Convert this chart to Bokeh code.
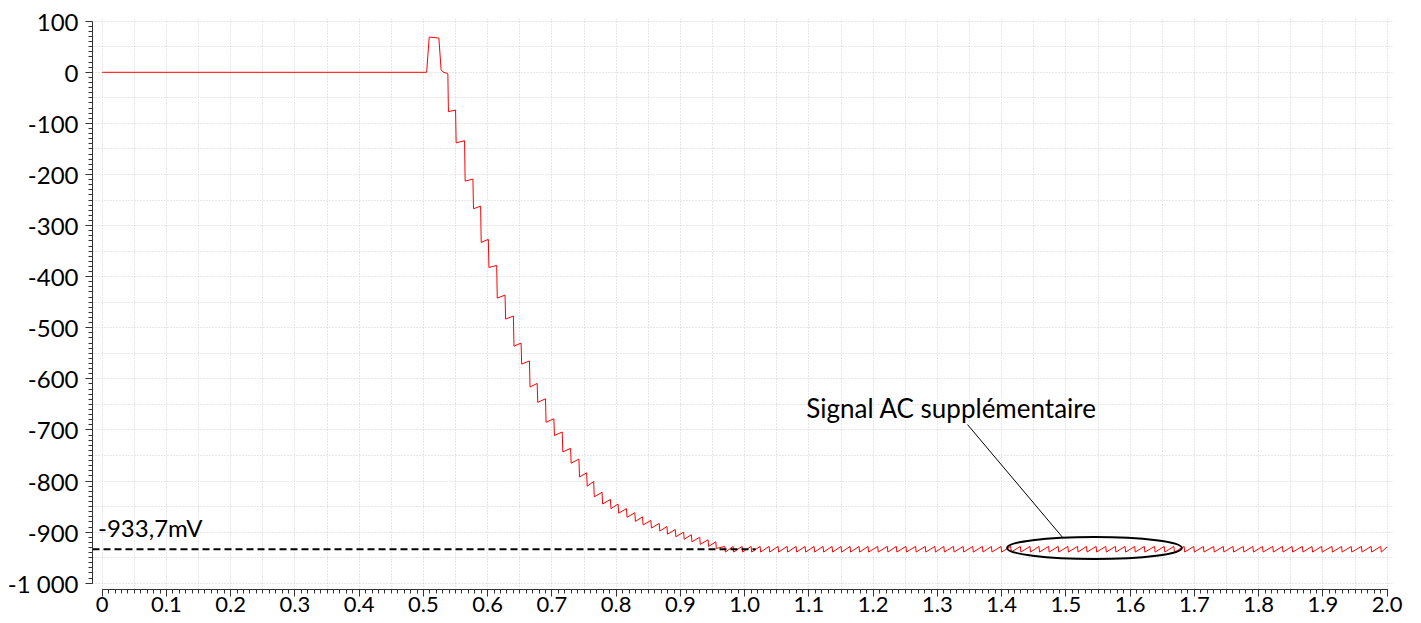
from bokeh.plotting import figure
from bokeh.models import Range1d, SingleIntervalTicker, FixedTicker, Label
from bokeh.embed import file_html
from bokeh.resources import INLINE

# ---------------- data ----------------
# flat start, short positive pulse, return to ~0
pre_t = [0.0, 0.505, 0.509, 0.524, 0.5275, 0.531, 0.537]
pre_v = [0.0, 0.0, 69.0, 67.0, 5.0, 0.0, -2.0]

# staircase decay: time of each sharp drop, level just before it, level just after it
decay_t = [0.538, 0.550, 0.564, 0.577, 0.589, 0.601, 0.614, 0.627, 0.640, 0.652,
           0.665, 0.677, 0.690, 0.703, 0.716, 0.729, 0.742, 0.754, 0.765, 0.778,
           0.791, 0.803, 0.816, 0.829, 0.841, 0.854, 0.867, 0.879, 0.892, 0.905,
           0.917, 0.930, 0.943, 0.955]
decay_hi = [-3, -74, -134, -209, -262, -327, -378, -436, -477, -530,
            -565, -609, -639, -678, -704, -736, -757, -784, -801, -822,
            -836, -845, -854, -862, -870, -877, -883, -889, -895, -900,
            -905, -910, -915, -919]
decay_lo = [-77, -138, -213, -267, -333, -382, -442, -483, -536, -571,
            -616, -646, -685, -711, -743, -765, -792, -810, -831, -845,
            -854, -863, -871, -879, -886, -892, -898, -904, -909, -914,
            -919, -924, -928, -932]

# steady-state ripple: drop times, upper and lower ripple levels
tail_t = [0.969, 0.982, 0.996, 1.010, 1.024, 1.038, 1.052, 1.066, 1.080, 1.094,
          1.108, 1.122, 1.136, 1.150, 1.164, 1.178, 1.192, 1.207, 1.222, 1.236,
          1.251, 1.266, 1.281, 1.296, 1.310, 1.325, 1.340, 1.355, 1.370, 1.384,
          1.399, 1.414, 1.429, 1.444, 1.458, 1.473, 1.488, 1.503, 1.518, 1.532,
          1.547, 1.562, 1.577, 1.592, 1.607, 1.622, 1.638, 1.653, 1.668, 1.684,
          1.699, 1.714, 1.730, 1.745, 1.760, 1.776, 1.791, 1.806, 1.822, 1.837,
          1.852, 1.868, 1.883, 1.898, 1.914, 1.929, 1.944, 1.960, 1.975, 1.990]
tail_hi = -928.0
tail_lo = -939.0
end_t = 2.0
end_v = -929.0

ref_level = -933.7
ref_text = "-933,7mV"
note_text = "Signal AC supplémentaire"

x_ticks = [0, 0.1, 0.2, 0.3, 0.4, 0.5, 0.6, 0.7, 0.8, 0.9, 1.0,
           1.1, 1.2, 1.3, 1.4, 1.5, 1.6, 1.7, 1.8, 1.9, 2.0]
x_labels = ["0", "0.1", "0.2", "0.3", "0.4", "0.5", "0.6", "0.7", "0.8", "0.9", "1.0",
            "1.1", "1.2", "1.3", "1.4", "1.5", "1.6", "1.7", "1.8", "1.9", "2.0"]
y_ticks = [-1000, -900, -800, -700, -600, -500, -400, -300, -200, -100, 0, 100]
y_labels = ["-1 000", "-900", "-800", "-700", "-600", "-500", "-400", "-300",
            "-200", "-100", "0", "100"]

# ---------------- build the trace ----------------
xs = list(pre_t)
ys = list(pre_v)
DROP = 0.0009
for t, hi, lo in zip(decay_t, decay_hi, decay_lo):
    xs += [t, t + DROP]
    ys += [hi, lo]
for t in tail_t:
    xs += [t, t + DROP]
    ys += [tail_hi, tail_lo]
xs.append(end_t)
ys.append(end_v)

FONT = "Lato"
X0, X1 = -0.0151, 2.0083
Y0, Y1 = -1012.3, 105.3

p = figure(width=1421, height=623, output_backend="svg", toolbar_location=None,
           x_range=Range1d(X0, X1), y_range=Range1d(Y0, Y1),
           min_border_left=92, min_border_right=29, min_border_top=18,
           min_border_bottom=34)
p.outline_line_color = None
p.background_fill_color = "white"
p.border_fill_color = "white"

# grid
p.xgrid.ticker = SingleIntervalTicker(interval=0.05, num_minor_ticks=0)
p.ygrid.ticker = SingleIntervalTicker(interval=50, num_minor_ticks=0)
for g in (p.xgrid, p.ygrid):
    g.grid_line_color = "#cfcfcf"
    g.grid_line_dash = "1 2"
    g.grid_line_width = 1

# axes
xminor = [i / 100 for i in range(0, 201)]
yminor = list(range(-1000, 101, 10))
p.xaxis.ticker = FixedTicker(ticks=x_ticks, minor_ticks=xminor)
p.yaxis.ticker = FixedTicker(ticks=y_ticks, minor_ticks=yminor)
p.xaxis.major_label_overrides = dict(zip(x_ticks, x_labels))
p.yaxis.major_label_overrides = dict(zip(y_ticks, y_labels))
p.xaxis.bounds = (0, 2.0)
p.yaxis.bounds = (-1000, 100)
for ax in (p.xaxis, p.yaxis):
    ax.axis_line_color = "#333333"
    ax.axis_line_width = 1
    ax.major_tick_line_color = "#333333"
    ax.minor_tick_line_color = "#333333"
    ax.major_tick_in = 0
    ax.major_tick_out = 7
    ax.minor_tick_in = 0
    ax.minor_tick_out = 4
    ax.major_label_text_font = FONT
    ax.major_label_text_color = "black"
p.xaxis.major_label_text_font_size = "22px"
p.yaxis.major_label_text_font_size = "24px"
p.xaxis.major_label_standoff = 0
p.yaxis.major_label_standoff = 7

# signal
p.line(xs, ys, line_color="#ff0000", line_width=1)

# reference level
p.segment(x0=[X0], y0=[ref_level], x1=[1.017], y1=[ref_level],
          line_color="black", line_width=2, line_dash="7 4")
p.add_layout(Label(x=-0.0065, y=-891, text=ref_text, text_font=FONT,
                   text_font_size="24px", text_color="black",
                   text_baseline="alphabetic"))

# annotation
p.ellipse(x=[1.5444], y=[-931], width=0.272, height=43, fill_color=None,
          line_color="black", line_width=2)
p.line([1.3468, 1.4946], [-689.5, -910], line_color="black", line_width=1)
p.add_layout(Label(x=1.096, y=-657, text=note_text, text_font=FONT,
                   text_font_size="26px", text_color="black",
                   text_baseline="alphabetic"))

open("out.html", "w").write(file_html(p, INLINE))
